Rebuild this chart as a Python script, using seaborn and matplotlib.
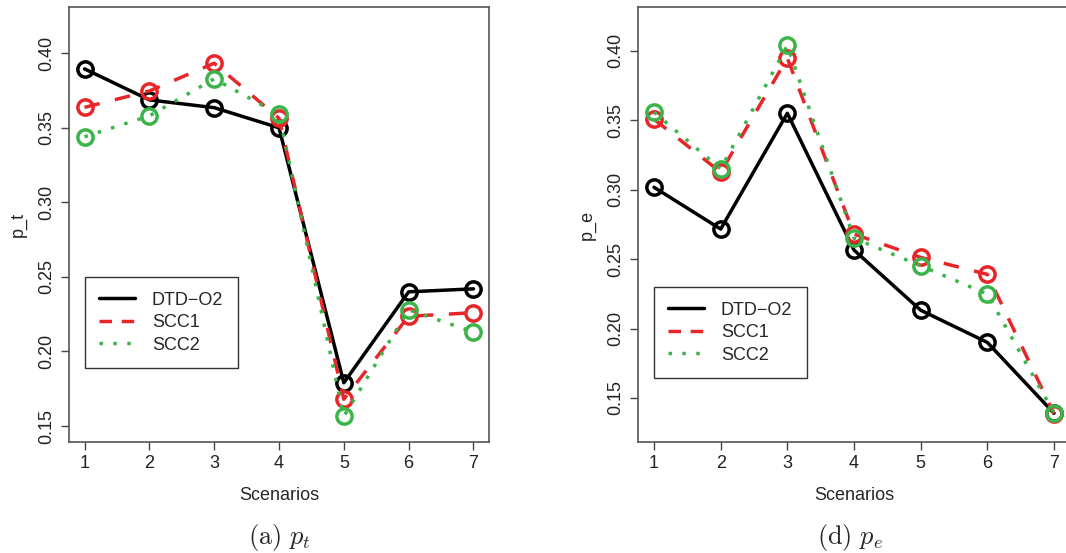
import numpy as np
import pandas as pd
import matplotlib
matplotlib.use("Agg")
import matplotlib.pyplot as plt
import seaborn as sns
from matplotlib.lines import Line2D

sns.set_style("white")
plt.rcParams['font.family'] = ['Liberation Sans', 'DejaVu Sans']
plt.rcParams['mathtext.fontset'] = 'cm'

# Data
scenarios = [1, 2, 3, 4, 5, 6, 7]
methods = ["DTD\u2212O2", "SCC1", "SCC2"]

pt_dtd = [0.3895, 0.3687, 0.3635, 0.3500, 0.1790, 0.2400, 0.2420]
pt_scc1 = [0.3637, 0.3747, 0.3933, 0.3564, 0.1680, 0.2236, 0.2260]
pt_scc2 = [0.3440, 0.3580, 0.3828, 0.3590, 0.1565, 0.2280, 0.2130]

pe_dtd = [0.3017, 0.2716, 0.3550, 0.2565, 0.2132, 0.1900, 0.1390]
pe_scc1 = [0.3507, 0.3125, 0.3947, 0.2680, 0.2512, 0.2390, 0.1387]
pe_scc2 = [0.3558, 0.3149, 0.4038, 0.2650, 0.2452, 0.2248, 0.1392]

colors = ['black', '#E8262A', '#3BB44A']
styles = ['-', (0, (4.5, 4.5)), (0, (1, 3))]
leg_styles = ['-', (0, (3.6, 2.8)), (0, (1, 3))]


def long_df(a, b, c):
    return pd.DataFrame({
        'Scenarios': scenarios * 3,
        'value': a + b + c,
        'method': [m for m in methods for _ in scenarios],
    })


df_t = long_df(pt_dtd, pt_scc1, pt_scc2)
df_e = long_df(pe_dtd, pe_scc1, pe_scc2)

fig = plt.figure(figsize=(10.66, 5.53), dpi=100)
W, H = 1066, 553
ax1 = fig.add_axes([69 / W, 1 - 442 / H, 420 / W, 435 / H])
ax2 = fig.add_axes([638 / W, 1 - 442 / H, 432 / W, 435 / H])


def draw(ax, df, ylab, ylim, leg_anchor, caption, cap_x):
    for m, col, ls in zip(methods, colors, styles):
        sub = df[df['method'] == m]
        sns.lineplot(data=sub, x='Scenarios', y='value', ax=ax, color=col,
                     linestyle=ls, linewidth=2.5, marker='o', markersize=11,
                     markerfacecolor='none', markeredgecolor=col,
                     markeredgewidth=2.5, legend=False)
    ax.set_xlim(0.76, 7.24)
    ax.set_ylim(*ylim)
    ax.set_xticks(scenarios)
    ax.set_yticks([0.15, 0.20, 0.25, 0.30, 0.35, 0.40])
    ax.set_yticklabels(['0.15', '0.20', '0.25', '0.30', '0.35', '0.40'],
                       rotation=90, va='center')
    ax.tick_params(axis='both', labelsize=13, length=6, width=1,
                   color='#444444', direction='out', left=True, bottom=True,
                   colors='#222222')
    ax.tick_params(axis='y', pad=4)
    for s in ax.spines.values():
        s.set_color('#555555')
        s.set_linewidth(1.2)
    ax.set_xlabel('Scenarios', fontsize=13, labelpad=11)
    ax.set_ylabel(ylab, fontsize=13, labelpad=8)
    handles = [Line2D([], [], color=c, linestyle=ls, linewidth=2.5)
               for c, ls in zip(colors, leg_styles)]
    leg = ax.legend(handles, methods, loc='lower left', bbox_to_anchor=leg_anchor,
                    fontsize=13, frameon=True, fancybox=False, framealpha=1,
                    edgecolor='#333333', handlelength=1.95, handletextpad=0.95,
                    borderpad=0.8, labelspacing=0.3, borderaxespad=0)
    leg.get_frame().set_linewidth(1.0)
    ax.text(cap_x, -0.22, caption, transform=ax.transAxes,
            ha='center', va='center', fontsize=19)


draw(ax1, df_t, 'p_t', (0.1393, 0.431), (0.038, 0.17),
     r'$\mathrm{(a)}\ p_t$', 0.5)
draw(ax2, df_e, 'p_e', (0.1183, 0.4315), (0.037, 0.147),
     r'$\mathrm{(d)}\ p_e$', 0.49)

fig.savefig('out.png', dpi=100)
